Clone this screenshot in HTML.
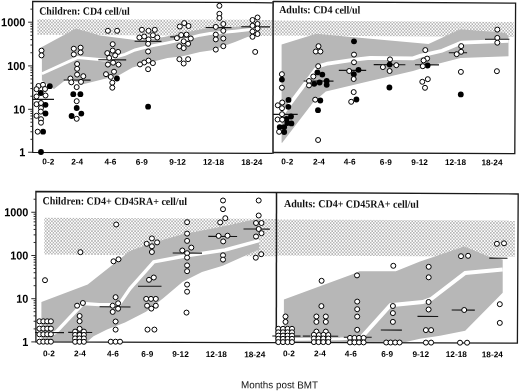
<!DOCTYPE html>
<html><head><meta charset="utf-8"><title>Figure</title>
<style>
html,body{margin:0;padding:0;background:#fff;}
body{width:520px;height:391px;overflow:hidden;}
svg{display:block;will-change:transform;opacity:0.999;}
.ax{font-family:"Liberation Sans",sans-serif;font-weight:bold;fill:#000;}
.tt{font-family:"Liberation Serif",serif;font-weight:bold;fill:#111;}
.xl{font-family:"Liberation Sans",sans-serif;fill:#111;}
</style></head><body>
<svg width="520" height="391" viewBox="0 0 520 391">
<defs>
<pattern id="dots" width="3.08" height="3.26" patternUnits="userSpaceOnUse" patternTransform="translate(0.3 0.55)">
<rect width="3.08" height="3.26" fill="#fff"/><rect x="0.27" y="0.3" width="1.05" height="1.05" fill="#585858"/><rect x="1.81" y="1.93" width="1.05" height="1.05" fill="#585858"/>
</pattern>
</defs>
<rect width="520" height="391" fill="#fff"/>

<g id="tl">
<polygon points="37.3,19.2 272.5,19.8 272.5,36.0 37.3,34.8" fill="url(#dots)"/>
<polygon points="41.9,47.0 76.0,28.5 100.0,35.5 137.0,40.3 150.0,39.5 163.8,36.9 197.5,30.0 210.0,27.5 235.0,26.9 247.5,25.6 255.0,25.0 255.0,36.6 248.0,36.8 235.0,41.9 212.0,50.3 200.0,52.0 182.5,56.2 167.5,58.1 157.5,60.6 132.5,67.5 118.5,75.6 105.0,78.8 84.0,84.0 72.0,80.4 65.5,80.0 54.0,89.0 41.9,80.5" fill="#b7b7b7"/>
<polyline points="41.9,73.7 77.5,57.6 104.9,60.0 125.0,54.3 135.0,50.0 148.0,46.6 165.0,43.3 183.0,39.6 200.0,35.2 210.0,33.5 235.0,31.2 255.0,29.0" fill="none" stroke="#fff" stroke-width="2.9" stroke-linejoin="miter"/>
<path d="M272.8 2.8L32.7 1.4L32.7 152.3L272.6 153.4" stroke="#1a1a1a" stroke-width="1.3" fill="none" stroke-linejoin="miter"/>
<path d="M28.1 152.25H32.7M30.4 139.32H32.7M30.4 131.76H32.7M30.4 126.39H32.7M30.4 122.23H32.7M30.4 118.83H32.7M30.4 115.95H32.7M30.4 113.46H32.7M30.4 111.27H32.7M28.1 109.30H32.7M30.4 96.24H32.7M30.4 88.59H32.7M30.4 83.17H32.7M30.4 78.96H32.7M30.4 75.53H32.7M30.4 72.62H32.7M30.4 70.11H32.7M30.4 67.89H32.7M28.1 65.90H32.7M30.4 52.74H32.7M30.4 45.05H32.7M30.4 39.59H32.7M30.4 35.36H32.7M30.4 31.89H32.7M30.4 28.97H32.7M30.4 26.43H32.7M30.4 24.20H32.7M28.1 22.20H32.7M30.4 9.15H32.7" stroke="#222" stroke-width="0.95" fill="none"/>
<text class="ax" x="25.3" y="26.4" font-size="11.6" text-anchor="end" textLength="24.2" lengthAdjust="spacingAndGlyphs" transform="rotate(0.3 25.3 26.4)">1000</text>
<text class="ax" x="25.3" y="70.1" font-size="11.6" text-anchor="end" textLength="18.15" lengthAdjust="spacingAndGlyphs" transform="rotate(0.3 25.3 70.1)">100</text>
<text class="ax" x="25.3" y="113.5" font-size="11.6" text-anchor="end" textLength="12.1" lengthAdjust="spacingAndGlyphs" transform="rotate(0.3 25.3 113.5)">10</text>
<text class="ax" x="25.3" y="156.4" font-size="11.6" text-anchor="end" textLength="6.05" lengthAdjust="spacingAndGlyphs" transform="rotate(0.3 25.3 156.4)">1</text>
<path d="M32.7 99.3L54.0 99.4" stroke="#151515" stroke-width="1.15"/>
<path d="M63.7 80.0L90.6 80.1" stroke="#151515" stroke-width="1.15"/>
<path d="M98.3 59.8L126.2 59.9" stroke="#151515" stroke-width="1.15"/>
<path d="M134.6 41.3L161.5 41.4" stroke="#151515" stroke-width="1.15"/>
<path d="M170.2 36.9L192.3 37.0" stroke="#151515" stroke-width="1.15"/>
<path d="M205.6 27.5L231.5 27.6" stroke="#151515" stroke-width="1.15"/>
<path d="M241.2 26.8L270.0 26.9" stroke="#151515" stroke-width="1.15"/>
<circle cx="41.5" cy="50.6" r="2.5" fill="#fff" stroke="#000" stroke-width="1.0"/>
<circle cx="41.5" cy="55.4" r="2.5" fill="#fff" stroke="#000" stroke-width="1.0"/>
<circle cx="38.5" cy="86.0" r="2.5" fill="#fff" stroke="#000" stroke-width="1.0"/>
<circle cx="43.0" cy="84.8" r="2.5" fill="#fff" stroke="#000" stroke-width="1.0"/>
<circle cx="49.8" cy="86.2" r="2.9" fill="#000"/>
<circle cx="36.5" cy="89.2" r="2.5" fill="#fff" stroke="#000" stroke-width="1.0"/>
<circle cx="45.0" cy="89.0" r="2.5" fill="#fff" stroke="#000" stroke-width="1.0"/>
<circle cx="40.8" cy="93.0" r="2.9" fill="#000"/>
<circle cx="45.5" cy="95.5" r="2.5" fill="#fff" stroke="#000" stroke-width="1.0"/>
<circle cx="36.5" cy="96.5" r="2.5" fill="#fff" stroke="#000" stroke-width="1.0"/>
<circle cx="36.5" cy="104.2" r="2.5" fill="#fff" stroke="#000" stroke-width="1.0"/>
<circle cx="41.0" cy="103.0" r="2.5" fill="#fff" stroke="#000" stroke-width="1.0"/>
<circle cx="45.5" cy="104.8" r="2.9" fill="#000"/>
<circle cx="41.0" cy="108.0" r="2.5" fill="#fff" stroke="#000" stroke-width="1.0"/>
<circle cx="40.8" cy="111.6" r="2.5" fill="#fff" stroke="#000" stroke-width="1.0"/>
<circle cx="45.5" cy="113.5" r="2.9" fill="#000"/>
<circle cx="36.5" cy="115.8" r="2.5" fill="#fff" stroke="#000" stroke-width="1.0"/>
<circle cx="41.0" cy="119.2" r="2.5" fill="#fff" stroke="#000" stroke-width="1.0"/>
<circle cx="41.0" cy="122.7" r="2.5" fill="#fff" stroke="#000" stroke-width="1.0"/>
<circle cx="37.7" cy="131.7" r="2.5" fill="#fff" stroke="#000" stroke-width="1.0"/>
<circle cx="43.1" cy="131.7" r="2.9" fill="#000"/>
<circle cx="41.0" cy="152.0" r="2.9" fill="#000"/>
<circle cx="73.8" cy="48.7" r="2.5" fill="#fff" stroke="#000" stroke-width="1.0"/>
<circle cx="80.6" cy="47.7" r="2.5" fill="#fff" stroke="#000" stroke-width="1.0"/>
<circle cx="73.8" cy="54.4" r="2.5" fill="#fff" stroke="#000" stroke-width="1.0"/>
<circle cx="80.6" cy="52.5" r="2.5" fill="#fff" stroke="#000" stroke-width="1.0"/>
<circle cx="77.1" cy="64.0" r="2.5" fill="#fff" stroke="#000" stroke-width="1.0"/>
<circle cx="77.1" cy="68.8" r="2.5" fill="#fff" stroke="#000" stroke-width="1.0"/>
<circle cx="77.1" cy="74.6" r="2.5" fill="#fff" stroke="#000" stroke-width="1.0"/>
<circle cx="83.3" cy="76.2" r="2.5" fill="#fff" stroke="#000" stroke-width="1.0"/>
<circle cx="70.4" cy="78.5" r="2.5" fill="#fff" stroke="#000" stroke-width="1.0"/>
<circle cx="71.3" cy="82.3" r="2.5" fill="#fff" stroke="#000" stroke-width="1.0"/>
<circle cx="81.0" cy="81.9" r="2.5" fill="#fff" stroke="#000" stroke-width="1.0"/>
<circle cx="76.7" cy="87.1" r="2.5" fill="#fff" stroke="#000" stroke-width="1.0"/>
<circle cx="73.3" cy="94.2" r="2.9" fill="#000"/>
<circle cx="80.4" cy="94.2" r="2.9" fill="#000"/>
<circle cx="76.7" cy="101.2" r="2.5" fill="#fff" stroke="#000" stroke-width="1.0"/>
<circle cx="76.7" cy="108.0" r="2.9" fill="#000"/>
<circle cx="81.3" cy="113.6" r="2.9" fill="#000"/>
<circle cx="71.6" cy="116.0" r="2.9" fill="#000"/>
<circle cx="76.7" cy="118.8" r="2.5" fill="#fff" stroke="#000" stroke-width="1.0"/>
<circle cx="107.9" cy="30.8" r="2.5" fill="#fff" stroke="#000" stroke-width="1.0"/>
<circle cx="117.1" cy="30.8" r="2.5" fill="#fff" stroke="#000" stroke-width="1.0"/>
<circle cx="112.7" cy="44.2" r="2.5" fill="#fff" stroke="#000" stroke-width="1.0"/>
<circle cx="112.7" cy="50.6" r="2.5" fill="#fff" stroke="#000" stroke-width="1.0"/>
<circle cx="107.3" cy="53.1" r="2.5" fill="#fff" stroke="#000" stroke-width="1.0"/>
<circle cx="118.1" cy="51.9" r="2.5" fill="#fff" stroke="#000" stroke-width="1.0"/>
<circle cx="115.2" cy="55.4" r="2.5" fill="#fff" stroke="#000" stroke-width="1.0"/>
<circle cx="109.2" cy="57.9" r="2.5" fill="#fff" stroke="#000" stroke-width="1.0"/>
<circle cx="113.1" cy="62.7" r="2.5" fill="#fff" stroke="#000" stroke-width="1.0"/>
<circle cx="107.9" cy="64.6" r="2.5" fill="#fff" stroke="#000" stroke-width="1.0"/>
<circle cx="118.5" cy="64.6" r="2.5" fill="#fff" stroke="#000" stroke-width="1.0"/>
<circle cx="114.0" cy="71.7" r="2.5" fill="#fff" stroke="#000" stroke-width="1.0"/>
<circle cx="106.0" cy="74.2" r="2.5" fill="#fff" stroke="#000" stroke-width="1.0"/>
<circle cx="110.8" cy="76.9" r="2.5" fill="#fff" stroke="#000" stroke-width="1.0"/>
<circle cx="116.9" cy="78.5" r="2.9" fill="#000"/>
<circle cx="112.3" cy="82.7" r="2.5" fill="#fff" stroke="#000" stroke-width="1.0"/>
<circle cx="112.3" cy="87.7" r="2.5" fill="#fff" stroke="#000" stroke-width="1.0"/>
<circle cx="141.9" cy="29.8" r="2.5" fill="#fff" stroke="#000" stroke-width="1.0"/>
<circle cx="148.5" cy="30.8" r="2.5" fill="#fff" stroke="#000" stroke-width="1.0"/>
<circle cx="154.8" cy="29.8" r="2.5" fill="#fff" stroke="#000" stroke-width="1.0"/>
<circle cx="152.9" cy="35.2" r="2.5" fill="#fff" stroke="#000" stroke-width="1.0"/>
<circle cx="144.2" cy="36.5" r="2.5" fill="#fff" stroke="#000" stroke-width="1.0"/>
<circle cx="139.4" cy="37.5" r="2.5" fill="#fff" stroke="#000" stroke-width="1.0"/>
<circle cx="157.3" cy="37.5" r="2.5" fill="#fff" stroke="#000" stroke-width="1.0"/>
<circle cx="148.5" cy="39.4" r="2.5" fill="#fff" stroke="#000" stroke-width="1.0"/>
<circle cx="148.1" cy="43.8" r="2.5" fill="#fff" stroke="#000" stroke-width="1.0"/>
<circle cx="148.1" cy="51.5" r="2.5" fill="#fff" stroke="#000" stroke-width="1.0"/>
<circle cx="148.5" cy="60.6" r="2.5" fill="#fff" stroke="#000" stroke-width="1.0"/>
<circle cx="144.2" cy="62.5" r="2.5" fill="#fff" stroke="#000" stroke-width="1.0"/>
<circle cx="152.9" cy="63.1" r="2.5" fill="#fff" stroke="#000" stroke-width="1.0"/>
<circle cx="140.0" cy="64.4" r="2.5" fill="#fff" stroke="#000" stroke-width="1.0"/>
<circle cx="148.1" cy="69.2" r="2.5" fill="#fff" stroke="#000" stroke-width="1.0"/>
<circle cx="148.1" cy="106.7" r="2.9" fill="#000"/>
<circle cx="184.2" cy="23.1" r="2.5" fill="#fff" stroke="#000" stroke-width="1.0"/>
<circle cx="179.8" cy="26.5" r="2.5" fill="#fff" stroke="#000" stroke-width="1.0"/>
<circle cx="188.5" cy="26.0" r="2.5" fill="#fff" stroke="#000" stroke-width="1.0"/>
<circle cx="181.2" cy="35.0" r="2.5" fill="#fff" stroke="#000" stroke-width="1.0"/>
<circle cx="186.5" cy="34.6" r="2.5" fill="#fff" stroke="#000" stroke-width="1.0"/>
<circle cx="176.9" cy="38.1" r="2.5" fill="#fff" stroke="#000" stroke-width="1.0"/>
<circle cx="190.8" cy="38.5" r="2.5" fill="#fff" stroke="#000" stroke-width="1.0"/>
<circle cx="183.7" cy="41.3" r="2.5" fill="#fff" stroke="#000" stroke-width="1.0"/>
<circle cx="188.1" cy="43.8" r="2.5" fill="#fff" stroke="#000" stroke-width="1.0"/>
<circle cx="179.4" cy="46.2" r="2.5" fill="#fff" stroke="#000" stroke-width="1.0"/>
<circle cx="183.7" cy="48.1" r="2.5" fill="#fff" stroke="#000" stroke-width="1.0"/>
<circle cx="179.4" cy="59.2" r="2.5" fill="#fff" stroke="#000" stroke-width="1.0"/>
<circle cx="188.1" cy="59.2" r="2.5" fill="#fff" stroke="#000" stroke-width="1.0"/>
<circle cx="183.7" cy="63.5" r="2.5" fill="#fff" stroke="#000" stroke-width="1.0"/>
<circle cx="219.4" cy="5.8" r="2.5" fill="#fff" stroke="#000" stroke-width="1.0"/>
<circle cx="219.4" cy="13.8" r="2.5" fill="#fff" stroke="#000" stroke-width="1.0"/>
<circle cx="219.4" cy="18.0" r="2.5" fill="#fff" stroke="#000" stroke-width="1.0"/>
<circle cx="223.3" cy="24.0" r="2.5" fill="#fff" stroke="#000" stroke-width="1.0"/>
<circle cx="215.8" cy="26.9" r="2.5" fill="#fff" stroke="#000" stroke-width="1.0"/>
<circle cx="223.3" cy="30.8" r="2.5" fill="#fff" stroke="#000" stroke-width="1.0"/>
<circle cx="215.8" cy="34.6" r="2.5" fill="#fff" stroke="#000" stroke-width="1.0"/>
<circle cx="223.3" cy="38.5" r="2.5" fill="#fff" stroke="#000" stroke-width="1.0"/>
<circle cx="215.8" cy="39.4" r="2.5" fill="#fff" stroke="#000" stroke-width="1.0"/>
<circle cx="223.3" cy="46.2" r="2.5" fill="#fff" stroke="#000" stroke-width="1.0"/>
<circle cx="215.8" cy="49.6" r="2.5" fill="#fff" stroke="#000" stroke-width="1.0"/>
<circle cx="257.5" cy="17.5" r="2.5" fill="#fff" stroke="#000" stroke-width="1.0"/>
<circle cx="252.5" cy="20.0" r="2.5" fill="#fff" stroke="#000" stroke-width="1.0"/>
<circle cx="257.5" cy="24.0" r="2.5" fill="#fff" stroke="#000" stroke-width="1.0"/>
<circle cx="252.5" cy="25.8" r="2.5" fill="#fff" stroke="#000" stroke-width="1.0"/>
<circle cx="257.5" cy="28.5" r="2.5" fill="#fff" stroke="#000" stroke-width="1.0"/>
<circle cx="252.5" cy="31.5" r="2.5" fill="#fff" stroke="#000" stroke-width="1.0"/>
<circle cx="257.5" cy="34.0" r="2.5" fill="#fff" stroke="#000" stroke-width="1.0"/>
<circle cx="252.5" cy="36.8" r="2.5" fill="#fff" stroke="#000" stroke-width="1.0"/>
<circle cx="255.2" cy="51.9" r="2.5" fill="#fff" stroke="#000" stroke-width="1.0"/>
<text class="tt" x="39.2" y="14.4" font-size="10.8" textLength="90.6" lengthAdjust="spacingAndGlyphs" transform="rotate(0.3 39.2 14.4)">Children: CD4 cell/ul</text>
<text class="ax" x="48.3" y="164.4" font-size="8.25" text-anchor="middle" transform="rotate(0.3 48.3 164.4)">0-2</text>
<text class="ax" x="77.1" y="164.5" font-size="8.25" text-anchor="middle" transform="rotate(0.3 77.1 164.5)">2-4</text>
<text class="ax" x="110.5" y="164.6" font-size="8.25" text-anchor="middle" transform="rotate(0.3 110.5 164.6)">4-6</text>
<text class="ax" x="141.8" y="164.7" font-size="8.25" text-anchor="middle" transform="rotate(0.3 141.8 164.7)">6-9</text>
<text class="ax" x="177.6" y="164.8" font-size="8.25" text-anchor="middle" transform="rotate(0.3 177.6 164.8)">9-12</text>
<text class="ax" x="213.6" y="164.9" font-size="8.25" text-anchor="middle" transform="rotate(0.3 213.6 164.9)">12-18</text>
<text class="ax" x="251.8" y="165.0" font-size="8.25" text-anchor="middle" transform="rotate(0.3 251.8 165.0)">18-24</text>
</g>
<g id="tr">
<polygon points="274.2,20.6 513.7,21.9 513.7,37.0 274.2,35.6" fill="url(#dots)"/>
<polygon points="281.6,44.5 316.2,33.7 365.0,38.3 428.5,44.0 460.4,29.2 504.6,32.7 508.5,36.0 508.5,56.2 460.4,58.0 428.5,66.2 413.0,71.0 370.0,81.0 325.8,91.5 313.0,102.5 282.0,143.0 281.6,142.5" fill="#b7b7b7"/>
<polyline points="281.8,114.8 318.0,66.4 327.7,63.5 354.6,59.6 370.0,57.9 413.0,58.3 420.8,55.6 442.0,50.8 461.3,42.7 508.5,40.8" fill="none" stroke="#fff" stroke-width="3.8" stroke-linejoin="miter"/>
<path d="M273.1 1.5L515.6 3.1L514.8 153.7L273.0 152.5" stroke="#1a1a1a" stroke-width="1.3" fill="none"/>
<path d="M273.1 1.0L273.0 153.8" stroke="#1a1a1a" stroke-width="1.5" fill="none"/>
<path d="M273.0 114.3L297.7 114.4" stroke="#151515" stroke-width="1.15"/>
<path d="M303.7 81.0L333.5 81.1" stroke="#151515" stroke-width="1.15"/>
<path d="M338.8 70.3L366.2 70.4" stroke="#151515" stroke-width="1.15"/>
<path d="M373.7 64.6L405.4 64.8" stroke="#151515" stroke-width="1.15"/>
<path d="M415.0 64.7L439.0 64.8" stroke="#151515" stroke-width="1.15"/>
<path d="M448.8 52.7L467.1 52.8" stroke="#151515" stroke-width="1.15"/>
<path d="M485.0 39.2L509.4 39.3" stroke="#151515" stroke-width="1.15"/>
<circle cx="281.9" cy="74.2" r="2.5" fill="#fff" stroke="#000" stroke-width="1.0"/>
<circle cx="281.9" cy="79.6" r="2.9" fill="#000"/>
<circle cx="281.9" cy="87.7" r="2.5" fill="#fff" stroke="#000" stroke-width="1.0"/>
<circle cx="288.5" cy="99.9" r="2.9" fill="#000"/>
<circle cx="282.2" cy="102.5" r="2.5" fill="#fff" stroke="#000" stroke-width="1.0"/>
<circle cx="277.8" cy="105.3" r="2.5" fill="#fff" stroke="#000" stroke-width="1.0"/>
<circle cx="288.3" cy="106.8" r="2.9" fill="#000"/>
<circle cx="282.0" cy="108.2" r="2.5" fill="#fff" stroke="#000" stroke-width="1.0"/>
<circle cx="282.0" cy="114.2" r="2.5" fill="#fff" stroke="#000" stroke-width="1.0"/>
<circle cx="291.0" cy="116.5" r="2.9" fill="#000"/>
<circle cx="286.5" cy="119.0" r="2.9" fill="#000"/>
<circle cx="277.6" cy="119.5" r="2.5" fill="#fff" stroke="#000" stroke-width="1.0"/>
<circle cx="282.2" cy="119.7" r="2.5" fill="#fff" stroke="#000" stroke-width="1.0"/>
<circle cx="287.3" cy="123.0" r="2.9" fill="#000"/>
<circle cx="291.4" cy="123.4" r="2.9" fill="#000"/>
<circle cx="279.7" cy="127.1" r="2.9" fill="#000"/>
<circle cx="284.2" cy="127.1" r="2.9" fill="#000"/>
<circle cx="279.1" cy="131.8" r="2.5" fill="#fff" stroke="#000" stroke-width="1.0"/>
<circle cx="284.2" cy="132.0" r="2.9" fill="#000"/>
<circle cx="318.5" cy="46.2" r="2.5" fill="#fff" stroke="#000" stroke-width="1.0"/>
<circle cx="315.8" cy="51.5" r="2.5" fill="#fff" stroke="#000" stroke-width="1.0"/>
<circle cx="320.4" cy="51.5" r="2.5" fill="#fff" stroke="#000" stroke-width="1.0"/>
<circle cx="318.2" cy="66.2" r="2.5" fill="#fff" stroke="#000" stroke-width="1.0"/>
<circle cx="317.4" cy="72.4" r="2.9" fill="#000"/>
<circle cx="322.3" cy="74.6" r="2.9" fill="#000"/>
<circle cx="313.3" cy="76.5" r="2.5" fill="#fff" stroke="#000" stroke-width="1.0"/>
<circle cx="309.0" cy="81.0" r="2.5" fill="#fff" stroke="#000" stroke-width="1.0"/>
<circle cx="314.2" cy="83.8" r="2.9" fill="#000"/>
<circle cx="319.6" cy="82.5" r="2.9" fill="#000"/>
<circle cx="326.7" cy="81.0" r="2.9" fill="#000"/>
<circle cx="326.7" cy="84.8" r="2.9" fill="#000"/>
<circle cx="309.0" cy="85.4" r="2.5" fill="#fff" stroke="#000" stroke-width="1.0"/>
<circle cx="315.2" cy="99.7" r="2.5" fill="#fff" stroke="#000" stroke-width="1.0"/>
<circle cx="320.3" cy="100.5" r="2.9" fill="#000"/>
<circle cx="318.0" cy="110.2" r="2.9" fill="#000"/>
<circle cx="318.1" cy="140.0" r="2.5" fill="#fff" stroke="#000" stroke-width="1.0"/>
<circle cx="354.0" cy="41.3" r="2.9" fill="#000"/>
<circle cx="354.0" cy="54.6" r="2.5" fill="#fff" stroke="#000" stroke-width="1.0"/>
<circle cx="354.0" cy="62.3" r="2.5" fill="#fff" stroke="#000" stroke-width="1.0"/>
<circle cx="358.5" cy="69.8" r="2.9" fill="#000"/>
<circle cx="349.2" cy="71.0" r="2.5" fill="#fff" stroke="#000" stroke-width="1.0"/>
<circle cx="353.8" cy="74.2" r="2.9" fill="#000"/>
<circle cx="353.7" cy="79.0" r="2.5" fill="#fff" stroke="#000" stroke-width="1.0"/>
<circle cx="353.7" cy="92.1" r="2.5" fill="#fff" stroke="#000" stroke-width="1.0"/>
<circle cx="356.4" cy="99.5" r="2.9" fill="#000"/>
<circle cx="351.2" cy="101.8" r="2.5" fill="#fff" stroke="#000" stroke-width="1.0"/>
<circle cx="390.0" cy="59.4" r="2.5" fill="#fff" stroke="#000" stroke-width="1.0"/>
<circle cx="389.6" cy="64.6" r="2.9" fill="#000"/>
<circle cx="382.9" cy="67.1" r="2.5" fill="#fff" stroke="#000" stroke-width="1.0"/>
<circle cx="396.3" cy="65.2" r="2.5" fill="#fff" stroke="#000" stroke-width="1.0"/>
<circle cx="389.6" cy="71.0" r="2.5" fill="#fff" stroke="#000" stroke-width="1.0"/>
<circle cx="389.4" cy="87.5" r="2.9" fill="#000"/>
<circle cx="425.3" cy="50.1" r="2.5" fill="#fff" stroke="#000" stroke-width="1.0"/>
<circle cx="427.1" cy="58.6" r="2.5" fill="#fff" stroke="#000" stroke-width="1.0"/>
<circle cx="423.6" cy="60.4" r="2.5" fill="#fff" stroke="#000" stroke-width="1.0"/>
<circle cx="427.6" cy="65.5" r="2.9" fill="#000"/>
<circle cx="422.8" cy="66.2" r="2.5" fill="#fff" stroke="#000" stroke-width="1.0"/>
<circle cx="427.8" cy="79.2" r="2.5" fill="#fff" stroke="#000" stroke-width="1.0"/>
<circle cx="422.3" cy="81.8" r="2.5" fill="#fff" stroke="#000" stroke-width="1.0"/>
<circle cx="425.0" cy="87.8" r="2.5" fill="#fff" stroke="#000" stroke-width="1.0"/>
<circle cx="461.2" cy="46.1" r="2.5" fill="#fff" stroke="#000" stroke-width="1.0"/>
<circle cx="461.1" cy="51.8" r="2.5" fill="#fff" stroke="#000" stroke-width="1.0"/>
<circle cx="456.7" cy="54.2" r="2.5" fill="#fff" stroke="#000" stroke-width="1.0"/>
<circle cx="460.9" cy="71.9" r="2.5" fill="#fff" stroke="#000" stroke-width="1.0"/>
<circle cx="460.8" cy="94.4" r="2.9" fill="#000"/>
<circle cx="497.3" cy="29.6" r="2.5" fill="#fff" stroke="#000" stroke-width="1.0"/>
<circle cx="497.3" cy="37.9" r="2.5" fill="#fff" stroke="#000" stroke-width="1.0"/>
<circle cx="497.3" cy="42.7" r="2.5" fill="#fff" stroke="#000" stroke-width="1.0"/>
<circle cx="496.9" cy="71.2" r="2.5" fill="#fff" stroke="#000" stroke-width="1.0"/>
<text class="tt" x="279.2" y="13.1" font-size="10.8" textLength="81.2" lengthAdjust="spacingAndGlyphs" transform="rotate(0.3 279.2 13.1)">Adults: CD4 cell/ul</text>
<text class="ax" x="287.3" y="164.4" font-size="8.25" text-anchor="middle" transform="rotate(0.3 287.3 164.4)">0-2</text>
<text class="ax" x="319.0" y="164.5" font-size="8.25" text-anchor="middle" transform="rotate(0.3 319.0 164.5)">2-4</text>
<text class="ax" x="349.6" y="164.6" font-size="8.25" text-anchor="middle" transform="rotate(0.3 349.6 164.6)">4-6</text>
<text class="ax" x="385.8" y="164.9" font-size="8.25" text-anchor="middle" transform="rotate(0.3 385.8 164.9)">6-9</text>
<text class="ax" x="419.6" y="165.0" font-size="8.25" text-anchor="middle" transform="rotate(0.3 419.6 165.0)">9-12</text>
<text class="ax" x="455.5" y="165.1" font-size="8.25" text-anchor="middle" transform="rotate(0.3 455.5 165.1)">12-18</text>
<text class="ax" x="492.0" y="165.2" font-size="8.25" text-anchor="middle" transform="rotate(0.3 492.0 165.2)">18-24</text>
</g>
<g id="bl">
<polygon points="44.3,217.8 276.0,218.9 276.0,256.3 44.3,254.6" fill="url(#dots)"/>
<polygon points="41.4,302.0 87.7,284.6 118.0,260.5 130.0,251.0 152.0,243.0 182.7,234.2 222.7,226.5 253.5,219.7 259.2,219.6 259.2,249.4 222.7,265.8 202.0,272.0 182.7,281.7 163.5,298.0 146.0,311.8 125.0,322.5 107.0,329.6 93.5,336.3 86.5,342.3 41.4,342.3" fill="#b7b7b7"/>
<polyline points="53.0,333.8 56.5,331.6 83.0,303.6 99.5,304.6 119.0,304.6 130.0,288.5 153.8,261.9 186.5,255.8 225.0,250.0 259.2,240.6" fill="none" stroke="#fff" stroke-width="3.4" stroke-linejoin="miter"/>
<path d="M276.5 192.5L35.9 191.5L35.9 341.9L276.3 342.7" stroke="#1a1a1a" stroke-width="1.3" fill="none" stroke-linejoin="miter"/>
<path d="M31.3 341.90H35.9M33.6 328.90H35.9M33.6 321.29H35.9M33.6 315.89H35.9M33.6 311.70H35.9M33.6 308.28H35.9M33.6 305.39H35.9M33.6 302.89H35.9M33.6 300.68H35.9M31.3 298.70H35.9M33.6 285.70H35.9M33.6 278.09H35.9M33.6 272.69H35.9M33.6 268.50H35.9M33.6 265.08H35.9M33.6 262.19H35.9M33.6 259.69H35.9M33.6 257.48H35.9M31.3 255.50H35.9M33.6 242.48H35.9M33.6 234.86H35.9M33.6 229.46H35.9M33.6 225.27H35.9M33.6 221.84H35.9M33.6 218.95H35.9M33.6 216.44H35.9M33.6 214.23H35.9M31.3 212.25H35.9M33.6 199.24H35.9" stroke="#222" stroke-width="0.95" fill="none"/>
<text class="ax" x="28.4" y="216.4" font-size="11.6" text-anchor="end" textLength="24.2" lengthAdjust="spacingAndGlyphs" transform="rotate(0.3 28.4 216.4)">1000</text>
<text class="ax" x="28.4" y="259.6" font-size="11.6" text-anchor="end" textLength="18.15" lengthAdjust="spacingAndGlyphs" transform="rotate(0.3 28.4 259.6)">100</text>
<text class="ax" x="28.4" y="302.8" font-size="11.6" text-anchor="end" textLength="12.1" lengthAdjust="spacingAndGlyphs" transform="rotate(0.3 28.4 302.8)">10</text>
<text class="ax" x="28.4" y="346.0" font-size="11.6" text-anchor="end" textLength="6.05" lengthAdjust="spacingAndGlyphs" transform="rotate(0.3 28.4 346.0)">1</text>
<path d="M35.0 332.5L64.0 332.6" stroke="#151515" stroke-width="1.15"/>
<path d="M68.2 332.4L92.2 332.5" stroke="#151515" stroke-width="1.15"/>
<path d="M99.6 306.8L130.5 307.0" stroke="#151515" stroke-width="1.15"/>
<path d="M138.0 286.2L161.5 286.3" stroke="#151515" stroke-width="1.15"/>
<path d="M172.7 253.0L202.0 253.1" stroke="#151515" stroke-width="1.15"/>
<path d="M208.3 236.4L237.1 236.5" stroke="#151515" stroke-width="1.15"/>
<path d="M243.5 229.0L269.8 229.1" stroke="#151515" stroke-width="1.15"/>
<circle cx="39.4" cy="321.3" r="2.5" fill="#fff" stroke="#000" stroke-width="1.0"/>
<circle cx="43.3" cy="321.3" r="2.5" fill="#fff" stroke="#000" stroke-width="1.0"/>
<circle cx="47.2" cy="321.3" r="2.5" fill="#fff" stroke="#000" stroke-width="1.0"/>
<circle cx="50.9" cy="321.3" r="2.5" fill="#fff" stroke="#000" stroke-width="1.0"/>
<circle cx="39.4" cy="328.6" r="2.5" fill="#fff" stroke="#000" stroke-width="1.0"/>
<circle cx="43.3" cy="328.6" r="2.5" fill="#fff" stroke="#000" stroke-width="1.0"/>
<circle cx="47.2" cy="328.6" r="2.5" fill="#fff" stroke="#000" stroke-width="1.0"/>
<circle cx="50.9" cy="328.6" r="2.5" fill="#fff" stroke="#000" stroke-width="1.0"/>
<circle cx="39.4" cy="334.3" r="2.5" fill="#fff" stroke="#000" stroke-width="1.0"/>
<circle cx="43.3" cy="334.3" r="2.5" fill="#fff" stroke="#000" stroke-width="1.0"/>
<circle cx="47.2" cy="334.3" r="2.5" fill="#fff" stroke="#000" stroke-width="1.0"/>
<circle cx="50.9" cy="334.3" r="2.5" fill="#fff" stroke="#000" stroke-width="1.0"/>
<circle cx="39.4" cy="341.7" r="2.5" fill="#fff" stroke="#000" stroke-width="1.0"/>
<circle cx="43.3" cy="341.7" r="2.5" fill="#fff" stroke="#000" stroke-width="1.0"/>
<circle cx="47.2" cy="341.7" r="2.5" fill="#fff" stroke="#000" stroke-width="1.0"/>
<circle cx="50.9" cy="341.7" r="2.5" fill="#fff" stroke="#000" stroke-width="1.0"/>
<circle cx="45.0" cy="280.2" r="2.5" fill="#fff" stroke="#000" stroke-width="1.0"/>
<circle cx="80.4" cy="252.2" r="2.5" fill="#fff" stroke="#000" stroke-width="1.0"/>
<circle cx="82.9" cy="303.0" r="2.5" fill="#fff" stroke="#000" stroke-width="1.0"/>
<circle cx="77.1" cy="305.7" r="2.5" fill="#fff" stroke="#000" stroke-width="1.0"/>
<circle cx="79.6" cy="316.0" r="2.5" fill="#fff" stroke="#000" stroke-width="1.0"/>
<circle cx="79.6" cy="321.2" r="2.5" fill="#fff" stroke="#000" stroke-width="1.0"/>
<circle cx="79.6" cy="328.8" r="2.5" fill="#fff" stroke="#000" stroke-width="1.0"/>
<circle cx="75.1" cy="331.6" r="2.5" fill="#fff" stroke="#000" stroke-width="1.0"/>
<circle cx="83.9" cy="331.6" r="2.5" fill="#fff" stroke="#000" stroke-width="1.0"/>
<circle cx="75.1" cy="334.9" r="2.5" fill="#fff" stroke="#000" stroke-width="1.0"/>
<circle cx="79.5" cy="334.9" r="2.5" fill="#fff" stroke="#000" stroke-width="1.0"/>
<circle cx="83.9" cy="334.9" r="2.5" fill="#fff" stroke="#000" stroke-width="1.0"/>
<circle cx="75.1" cy="338.4" r="2.5" fill="#fff" stroke="#000" stroke-width="1.0"/>
<circle cx="79.5" cy="338.4" r="2.5" fill="#fff" stroke="#000" stroke-width="1.0"/>
<circle cx="83.9" cy="338.4" r="2.5" fill="#fff" stroke="#000" stroke-width="1.0"/>
<circle cx="75.1" cy="341.8" r="2.5" fill="#fff" stroke="#000" stroke-width="1.0"/>
<circle cx="79.5" cy="341.8" r="2.5" fill="#fff" stroke="#000" stroke-width="1.0"/>
<circle cx="83.9" cy="341.8" r="2.5" fill="#fff" stroke="#000" stroke-width="1.0"/>
<circle cx="116.2" cy="224.5" r="2.5" fill="#fff" stroke="#000" stroke-width="1.0"/>
<circle cx="118.5" cy="259.3" r="2.5" fill="#fff" stroke="#000" stroke-width="1.0"/>
<circle cx="113.5" cy="261.3" r="2.5" fill="#fff" stroke="#000" stroke-width="1.0"/>
<circle cx="115.6" cy="297.2" r="2.5" fill="#fff" stroke="#000" stroke-width="1.0"/>
<circle cx="118.1" cy="303.3" r="2.5" fill="#fff" stroke="#000" stroke-width="1.0"/>
<circle cx="112.7" cy="305.7" r="2.5" fill="#fff" stroke="#000" stroke-width="1.0"/>
<circle cx="118.1" cy="308.7" r="2.5" fill="#fff" stroke="#000" stroke-width="1.0"/>
<circle cx="112.7" cy="311.9" r="2.5" fill="#fff" stroke="#000" stroke-width="1.0"/>
<circle cx="115.6" cy="321.5" r="2.5" fill="#fff" stroke="#000" stroke-width="1.0"/>
<circle cx="115.6" cy="329.6" r="2.5" fill="#fff" stroke="#000" stroke-width="1.0"/>
<circle cx="110.8" cy="341.7" r="2.5" fill="#fff" stroke="#000" stroke-width="1.0"/>
<circle cx="115.6" cy="341.7" r="2.5" fill="#fff" stroke="#000" stroke-width="1.0"/>
<circle cx="120.0" cy="341.7" r="2.5" fill="#fff" stroke="#000" stroke-width="1.0"/>
<circle cx="151.9" cy="238.4" r="2.5" fill="#fff" stroke="#000" stroke-width="1.0"/>
<circle cx="146.7" cy="243.8" r="2.5" fill="#fff" stroke="#000" stroke-width="1.0"/>
<circle cx="157.1" cy="242.4" r="2.5" fill="#fff" stroke="#000" stroke-width="1.0"/>
<circle cx="151.9" cy="246.3" r="2.5" fill="#fff" stroke="#000" stroke-width="1.0"/>
<circle cx="151.9" cy="252.0" r="2.5" fill="#fff" stroke="#000" stroke-width="1.0"/>
<circle cx="153.8" cy="277.5" r="2.5" fill="#fff" stroke="#000" stroke-width="1.0"/>
<circle cx="149.0" cy="279.8" r="2.5" fill="#fff" stroke="#000" stroke-width="1.0"/>
<circle cx="146.2" cy="298.9" r="2.5" fill="#fff" stroke="#000" stroke-width="1.0"/>
<circle cx="151.0" cy="298.9" r="2.5" fill="#fff" stroke="#000" stroke-width="1.0"/>
<circle cx="155.8" cy="298.9" r="2.5" fill="#fff" stroke="#000" stroke-width="1.0"/>
<circle cx="147.1" cy="305.7" r="2.5" fill="#fff" stroke="#000" stroke-width="1.0"/>
<circle cx="155.8" cy="305.7" r="2.5" fill="#fff" stroke="#000" stroke-width="1.0"/>
<circle cx="151.3" cy="308.6" r="2.5" fill="#fff" stroke="#000" stroke-width="1.0"/>
<circle cx="147.5" cy="329.6" r="2.5" fill="#fff" stroke="#000" stroke-width="1.0"/>
<circle cx="154.4" cy="329.6" r="2.5" fill="#fff" stroke="#000" stroke-width="1.0"/>
<circle cx="187.1" cy="222.2" r="2.5" fill="#fff" stroke="#000" stroke-width="1.0"/>
<circle cx="187.1" cy="233.6" r="2.5" fill="#fff" stroke="#000" stroke-width="1.0"/>
<circle cx="187.1" cy="240.9" r="2.5" fill="#fff" stroke="#000" stroke-width="1.0"/>
<circle cx="191.3" cy="247.6" r="2.5" fill="#fff" stroke="#000" stroke-width="1.0"/>
<circle cx="182.3" cy="250.5" r="2.5" fill="#fff" stroke="#000" stroke-width="1.0"/>
<circle cx="187.1" cy="253.2" r="2.5" fill="#fff" stroke="#000" stroke-width="1.0"/>
<circle cx="187.1" cy="257.6" r="2.5" fill="#fff" stroke="#000" stroke-width="1.0"/>
<circle cx="187.1" cy="265.4" r="2.5" fill="#fff" stroke="#000" stroke-width="1.0"/>
<circle cx="187.1" cy="271.2" r="2.5" fill="#fff" stroke="#000" stroke-width="1.0"/>
<circle cx="187.1" cy="284.6" r="2.5" fill="#fff" stroke="#000" stroke-width="1.0"/>
<circle cx="187.1" cy="291.7" r="2.5" fill="#fff" stroke="#000" stroke-width="1.0"/>
<circle cx="186.5" cy="312.6" r="2.5" fill="#fff" stroke="#000" stroke-width="1.0"/>
<circle cx="223.0" cy="200.5" r="2.5" fill="#fff" stroke="#000" stroke-width="1.0"/>
<circle cx="223.0" cy="209.2" r="2.5" fill="#fff" stroke="#000" stroke-width="1.0"/>
<circle cx="225.3" cy="218.2" r="2.5" fill="#fff" stroke="#000" stroke-width="1.0"/>
<circle cx="220.2" cy="222.4" r="2.5" fill="#fff" stroke="#000" stroke-width="1.0"/>
<circle cx="218.6" cy="235.9" r="2.5" fill="#fff" stroke="#000" stroke-width="1.0"/>
<circle cx="227.5" cy="235.7" r="2.5" fill="#fff" stroke="#000" stroke-width="1.0"/>
<circle cx="223.2" cy="241.4" r="2.5" fill="#fff" stroke="#000" stroke-width="1.0"/>
<circle cx="223.0" cy="255.3" r="2.5" fill="#fff" stroke="#000" stroke-width="1.0"/>
<circle cx="223.0" cy="259.6" r="2.5" fill="#fff" stroke="#000" stroke-width="1.0"/>
<circle cx="258.7" cy="200.5" r="2.5" fill="#fff" stroke="#000" stroke-width="1.0"/>
<circle cx="258.7" cy="215.5" r="2.5" fill="#fff" stroke="#000" stroke-width="1.0"/>
<circle cx="256.0" cy="223.0" r="2.5" fill="#fff" stroke="#000" stroke-width="1.0"/>
<circle cx="261.5" cy="223.0" r="2.5" fill="#fff" stroke="#000" stroke-width="1.0"/>
<circle cx="258.7" cy="229.0" r="2.5" fill="#fff" stroke="#000" stroke-width="1.0"/>
<circle cx="261.5" cy="233.2" r="2.5" fill="#fff" stroke="#000" stroke-width="1.0"/>
<circle cx="256.0" cy="236.5" r="2.5" fill="#fff" stroke="#000" stroke-width="1.0"/>
<circle cx="261.2" cy="254.2" r="2.5" fill="#fff" stroke="#000" stroke-width="1.0"/>
<circle cx="255.8" cy="257.7" r="2.5" fill="#fff" stroke="#000" stroke-width="1.0"/>
<text class="tt" x="42.5" y="204.3" font-size="10.8" textLength="144.5" lengthAdjust="spacingAndGlyphs" transform="rotate(0.3 42.5 204.3)">Children: CD4+ CD45RA+ cell/ul</text>
<text class="ax" x="49.0" y="356.2" font-size="8.25" text-anchor="middle" transform="rotate(0.3 49.0 356.2)">0-2</text>
<text class="ax" x="80.0" y="356.3" font-size="8.25" text-anchor="middle" transform="rotate(0.3 80.0 356.3)">2-4</text>
<text class="ax" x="112.9" y="356.5" font-size="8.25" text-anchor="middle" transform="rotate(0.3 112.9 356.5)">4-6</text>
<text class="ax" x="147.3" y="356.8" font-size="8.25" text-anchor="middle" transform="rotate(0.3 147.3 356.8)">6-9</text>
<text class="ax" x="180.5" y="356.9" font-size="8.25" text-anchor="middle" transform="rotate(0.3 180.5 356.9)">9-12</text>
<text class="ax" x="216.3" y="357.0" font-size="8.25" text-anchor="middle" transform="rotate(0.3 216.3 357.0)">12-18</text>
<text class="ax" x="254.7" y="357.2" font-size="8.25" text-anchor="middle" transform="rotate(0.3 254.7 357.2)">18-24</text>
</g>
<g id="br">
<polygon points="277.0,219.6 515.0,220.6 515.0,256.8 277.0,255.5" fill="url(#dots)"/>
<polygon points="283.9,299.6 356.6,272.7 359.2,271.2 395.8,271.2 420.0,261.5 440.0,254.8 464.2,246.5 489.2,256.7 502.7,259.6 502.7,292.7 465.2,330.8 440.0,335.8 420.0,338.8 403.5,342.5 283.9,342.5" fill="#b7b7b7"/>
<polyline points="355.0,338.6 361.2,337.7 390.4,305.2 422.7,302.1 431.5,298.8 465.2,273.0 502.7,269.6" fill="none" stroke="#fff" stroke-width="4.0" stroke-linejoin="miter"/>
<polyline points="294.5,339.3 340.0,338.8 362.0,338.0" fill="none" stroke="#fff" stroke-width="2.7" stroke-linejoin="miter"/>
<path d="M276.5 192.5L518.2 194.0L517.4 343.1L276.3 342.3" stroke="#1a1a1a" stroke-width="1.3" fill="none"/>
<path d="M276.5 192.0L276.3 343.2" stroke="#1a1a1a" stroke-width="1.5" fill="none"/>
<path d="M272.3 336.0L300.5 336.1" stroke="#151515" stroke-width="1.15"/>
<path d="M302.8 336.1L310.5 336.1" stroke="#151515" stroke-width="1.15"/>
<path d="M312.0 336.1L338.2 336.2" stroke="#151515" stroke-width="1.15"/>
<path d="M343.8 337.2L371.7 337.3" stroke="#151515" stroke-width="1.15"/>
<path d="M380.8 330.0L401.9 330.1" stroke="#151515" stroke-width="1.15"/>
<path d="M417.5 316.4L438.2 316.5" stroke="#151515" stroke-width="1.15"/>
<path d="M451.7 310.0L474.8 310.1" stroke="#151515" stroke-width="1.15"/>
<path d="M489.2 258.1L507.5 258.2" stroke="#151515" stroke-width="1.15"/>
<circle cx="285.5" cy="316.5" r="2.5" fill="#fff" stroke="#000" stroke-width="1.0"/>
<circle cx="285.5" cy="321.9" r="2.5" fill="#fff" stroke="#000" stroke-width="1.0"/>
<circle cx="278.3" cy="328.8" r="2.5" fill="#fff" stroke="#000" stroke-width="1.0"/>
<circle cx="283.0" cy="328.8" r="2.5" fill="#fff" stroke="#000" stroke-width="1.0"/>
<circle cx="287.6" cy="328.8" r="2.5" fill="#fff" stroke="#000" stroke-width="1.0"/>
<circle cx="292.0" cy="328.8" r="2.5" fill="#fff" stroke="#000" stroke-width="1.0"/>
<circle cx="278.3" cy="332.3" r="2.5" fill="#fff" stroke="#000" stroke-width="1.0"/>
<circle cx="283.0" cy="332.3" r="2.5" fill="#fff" stroke="#000" stroke-width="1.0"/>
<circle cx="287.6" cy="332.3" r="2.5" fill="#fff" stroke="#000" stroke-width="1.0"/>
<circle cx="292.0" cy="332.3" r="2.5" fill="#fff" stroke="#000" stroke-width="1.0"/>
<circle cx="278.3" cy="335.6" r="2.5" fill="#fff" stroke="#000" stroke-width="1.0"/>
<circle cx="283.0" cy="335.6" r="2.5" fill="#fff" stroke="#000" stroke-width="1.0"/>
<circle cx="287.6" cy="335.6" r="2.5" fill="#fff" stroke="#000" stroke-width="1.0"/>
<circle cx="292.0" cy="335.6" r="2.5" fill="#fff" stroke="#000" stroke-width="1.0"/>
<circle cx="278.3" cy="338.8" r="2.5" fill="#fff" stroke="#000" stroke-width="1.0"/>
<circle cx="283.0" cy="338.8" r="2.5" fill="#fff" stroke="#000" stroke-width="1.0"/>
<circle cx="287.6" cy="338.8" r="2.5" fill="#fff" stroke="#000" stroke-width="1.0"/>
<circle cx="292.0" cy="338.8" r="2.5" fill="#fff" stroke="#000" stroke-width="1.0"/>
<circle cx="278.3" cy="342.1" r="2.5" fill="#fff" stroke="#000" stroke-width="1.0"/>
<circle cx="283.0" cy="342.1" r="2.5" fill="#fff" stroke="#000" stroke-width="1.0"/>
<circle cx="287.6" cy="342.1" r="2.5" fill="#fff" stroke="#000" stroke-width="1.0"/>
<circle cx="292.0" cy="342.1" r="2.5" fill="#fff" stroke="#000" stroke-width="1.0"/>
<circle cx="321.6" cy="280.8" r="2.5" fill="#fff" stroke="#000" stroke-width="1.0"/>
<circle cx="321.4" cy="306.1" r="2.5" fill="#fff" stroke="#000" stroke-width="1.0"/>
<circle cx="316.4" cy="316.5" r="2.5" fill="#fff" stroke="#000" stroke-width="1.0"/>
<circle cx="325.8" cy="316.5" r="2.5" fill="#fff" stroke="#000" stroke-width="1.0"/>
<circle cx="316.4" cy="321.9" r="2.5" fill="#fff" stroke="#000" stroke-width="1.0"/>
<circle cx="325.8" cy="321.9" r="2.5" fill="#fff" stroke="#000" stroke-width="1.0"/>
<circle cx="316.4" cy="331.6" r="2.5" fill="#fff" stroke="#000" stroke-width="1.0"/>
<circle cx="325.8" cy="331.6" r="2.5" fill="#fff" stroke="#000" stroke-width="1.0"/>
<circle cx="313.9" cy="334.8" r="2.5" fill="#fff" stroke="#000" stroke-width="1.0"/>
<circle cx="318.9" cy="335.0" r="2.5" fill="#fff" stroke="#000" stroke-width="1.0"/>
<circle cx="323.5" cy="334.8" r="2.5" fill="#fff" stroke="#000" stroke-width="1.0"/>
<circle cx="328.3" cy="335.0" r="2.5" fill="#fff" stroke="#000" stroke-width="1.0"/>
<circle cx="313.9" cy="338.5" r="2.5" fill="#fff" stroke="#000" stroke-width="1.0"/>
<circle cx="318.5" cy="338.5" r="2.5" fill="#fff" stroke="#000" stroke-width="1.0"/>
<circle cx="323.3" cy="338.5" r="2.5" fill="#fff" stroke="#000" stroke-width="1.0"/>
<circle cx="328.3" cy="338.5" r="2.5" fill="#fff" stroke="#000" stroke-width="1.0"/>
<circle cx="313.9" cy="342.1" r="2.5" fill="#fff" stroke="#000" stroke-width="1.0"/>
<circle cx="318.5" cy="342.1" r="2.5" fill="#fff" stroke="#000" stroke-width="1.0"/>
<circle cx="323.3" cy="342.1" r="2.5" fill="#fff" stroke="#000" stroke-width="1.0"/>
<circle cx="328.3" cy="342.1" r="2.5" fill="#fff" stroke="#000" stroke-width="1.0"/>
<circle cx="357.0" cy="275.4" r="2.5" fill="#fff" stroke="#000" stroke-width="1.0"/>
<circle cx="357.2" cy="301.6" r="2.5" fill="#fff" stroke="#000" stroke-width="1.0"/>
<circle cx="357.2" cy="309.2" r="2.5" fill="#fff" stroke="#000" stroke-width="1.0"/>
<circle cx="357.2" cy="316.6" r="2.5" fill="#fff" stroke="#000" stroke-width="1.0"/>
<circle cx="357.2" cy="329.8" r="2.5" fill="#fff" stroke="#000" stroke-width="1.0"/>
<circle cx="350.0" cy="337.9" r="2.5" fill="#fff" stroke="#000" stroke-width="1.0"/>
<circle cx="354.5" cy="337.9" r="2.5" fill="#fff" stroke="#000" stroke-width="1.0"/>
<circle cx="359.0" cy="337.9" r="2.5" fill="#fff" stroke="#000" stroke-width="1.0"/>
<circle cx="363.6" cy="337.9" r="2.5" fill="#fff" stroke="#000" stroke-width="1.0"/>
<circle cx="350.0" cy="342.4" r="2.5" fill="#fff" stroke="#000" stroke-width="1.0"/>
<circle cx="354.5" cy="342.4" r="2.5" fill="#fff" stroke="#000" stroke-width="1.0"/>
<circle cx="359.0" cy="342.4" r="2.5" fill="#fff" stroke="#000" stroke-width="1.0"/>
<circle cx="363.6" cy="342.4" r="2.5" fill="#fff" stroke="#000" stroke-width="1.0"/>
<circle cx="393.3" cy="265.8" r="2.5" fill="#fff" stroke="#000" stroke-width="1.0"/>
<circle cx="392.9" cy="306.0" r="2.5" fill="#fff" stroke="#000" stroke-width="1.0"/>
<circle cx="392.9" cy="313.1" r="2.5" fill="#fff" stroke="#000" stroke-width="1.0"/>
<circle cx="392.9" cy="321.9" r="2.5" fill="#fff" stroke="#000" stroke-width="1.0"/>
<circle cx="386.2" cy="342.5" r="2.5" fill="#fff" stroke="#000" stroke-width="1.0"/>
<circle cx="390.6" cy="342.5" r="2.5" fill="#fff" stroke="#000" stroke-width="1.0"/>
<circle cx="395.2" cy="342.5" r="2.5" fill="#fff" stroke="#000" stroke-width="1.0"/>
<circle cx="399.6" cy="342.5" r="2.5" fill="#fff" stroke="#000" stroke-width="1.0"/>
<circle cx="428.7" cy="266.8" r="2.5" fill="#fff" stroke="#000" stroke-width="1.0"/>
<circle cx="428.7" cy="277.3" r="2.5" fill="#fff" stroke="#000" stroke-width="1.0"/>
<circle cx="428.6" cy="302.0" r="2.5" fill="#fff" stroke="#000" stroke-width="1.0"/>
<circle cx="428.6" cy="309.5" r="2.5" fill="#fff" stroke="#000" stroke-width="1.0"/>
<circle cx="425.9" cy="330.1" r="2.5" fill="#fff" stroke="#000" stroke-width="1.0"/>
<circle cx="431.1" cy="330.1" r="2.5" fill="#fff" stroke="#000" stroke-width="1.0"/>
<circle cx="425.9" cy="342.6" r="2.5" fill="#fff" stroke="#000" stroke-width="1.0"/>
<circle cx="431.1" cy="342.6" r="2.5" fill="#fff" stroke="#000" stroke-width="1.0"/>
<circle cx="461.0" cy="256.2" r="2.5" fill="#fff" stroke="#000" stroke-width="1.0"/>
<circle cx="468.1" cy="255.8" r="2.5" fill="#fff" stroke="#000" stroke-width="1.0"/>
<circle cx="464.2" cy="310.0" r="2.5" fill="#fff" stroke="#000" stroke-width="1.0"/>
<circle cx="460.0" cy="342.7" r="2.5" fill="#fff" stroke="#000" stroke-width="1.0"/>
<circle cx="467.1" cy="342.7" r="2.5" fill="#fff" stroke="#000" stroke-width="1.0"/>
<circle cx="496.9" cy="243.8" r="2.5" fill="#fff" stroke="#000" stroke-width="1.0"/>
<circle cx="504.0" cy="243.3" r="2.5" fill="#fff" stroke="#000" stroke-width="1.0"/>
<circle cx="499.8" cy="304.2" r="2.5" fill="#fff" stroke="#000" stroke-width="1.0"/>
<circle cx="499.8" cy="322.9" r="2.5" fill="#fff" stroke="#000" stroke-width="1.0"/>
<text class="tt" x="283.9" y="207.1" font-size="10.8" textLength="134.8" lengthAdjust="spacingAndGlyphs" transform="rotate(0.3 283.9 207.1)">Adults: CD4+ CD45RA+ cell/ul</text>
<text class="ax" x="289.0" y="356.2" font-size="8.25" text-anchor="middle" transform="rotate(0.3 289.0 356.2)">0-2</text>
<text class="ax" x="319.9" y="356.3" font-size="8.25" text-anchor="middle" transform="rotate(0.3 319.9 356.3)">2-4</text>
<text class="ax" x="350.8" y="356.5" font-size="8.25" text-anchor="middle" transform="rotate(0.3 350.8 356.5)">4-6</text>
<text class="ax" x="387.1" y="356.8" font-size="8.25" text-anchor="middle" transform="rotate(0.3 387.1 356.8)">6-9</text>
<text class="ax" x="420.8" y="357.0" font-size="8.25" text-anchor="middle" transform="rotate(0.3 420.8 357.0)">9-12</text>
<text class="ax" x="456.3" y="357.1" font-size="8.25" text-anchor="middle" transform="rotate(0.3 456.3 357.1)">12-18</text>
<text class="ax" x="492.3" y="357.2" font-size="8.25" text-anchor="middle" transform="rotate(0.3 492.3 357.2)">18-24</text>
</g>
<text class="xl" x="241.0" y="388.2" font-size="10.2" textLength="77" lengthAdjust="spacingAndGlyphs" transform="rotate(0.2 241.0 388.2)">Months post BMT</text>
</svg></body></html>
